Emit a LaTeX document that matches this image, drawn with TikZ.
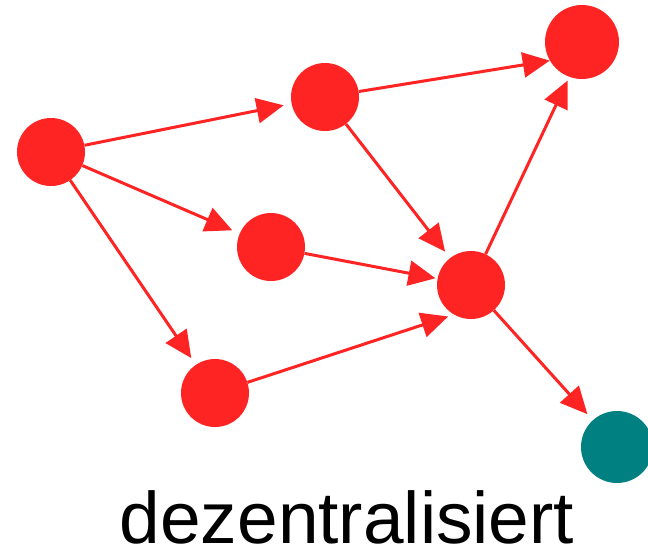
\documentclass[tikz,border=0pt]{standalone}
\usepackage{fontspec}
\setmainfont{Liberation Sans}
\usetikzlibrary{arrows.meta}
\definecolor{nodered}{RGB}{255,36,36}
\definecolor{nodeteal}{RGB}{0,128,128}
\begin{document}
\begin{tikzpicture}[x=1pt,y=-1pt,
  dot/.style={circle,fill=nodered,draw=none,minimum size=68pt,inner sep=0pt},
  edge/.style={draw=nodered,line width=3pt,-{Triangle[length=27pt,width=25pt]},shorten >=8pt}]
\useasboundingbox (0,0) rectangle (648,550);
\node[dot] (A) at (51,152) {};
\node[dot] (B) at (325,97) {};
\node[dot,minimum size=74pt] (C) at (582,42) {};
\node[dot] (D) at (271,247) {};
\node[dot] (E) at (471,285) {};
\node[dot] (F) at (215,393) {};
\node[dot,fill=nodeteal,minimum size=72pt] (G) at (617,447) {};
\node[anchor=base,font=\fontsize{73}{80}\selectfont,inner sep=0pt] (T) at (347,543) {dezentralisiert};
\draw[edge] (A) -- (B);
\draw[edge] (A) -- (D);
\draw[edge] (A) -- (F);
\draw[edge,shorten >=0pt] (B) -- (C.210);
\draw[edge] (B) -- (E);
\draw[edge,shorten >=2pt] (D) -- (E);
\draw[edge,shorten >=6pt] (F) -- (E.240);
\draw[edge,shorten >=4pt] (E) -- (C.250);
\draw[edge] (E) -- (G);
\end{tikzpicture}
\end{document}
